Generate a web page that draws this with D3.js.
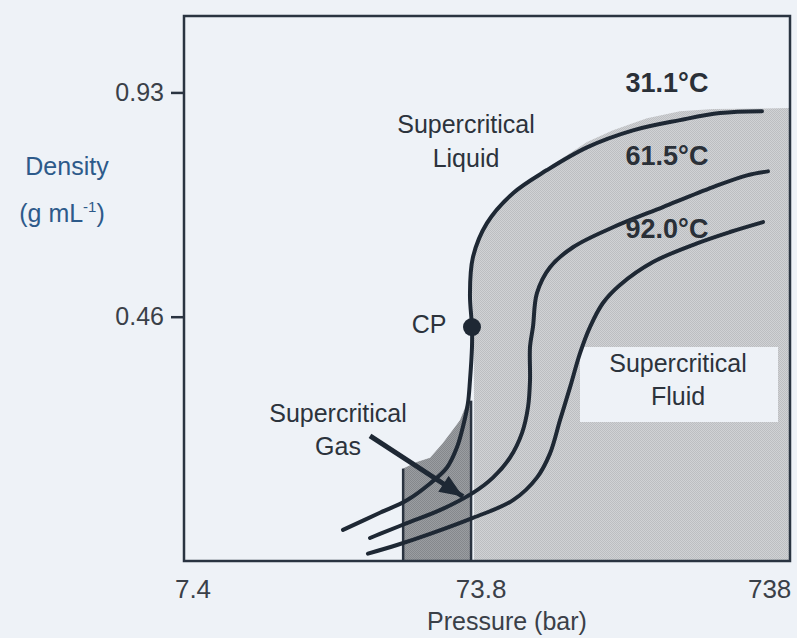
<!DOCTYPE html>
<html><head><meta charset="utf-8">
<script src="https://cdn.jsdelivr.net/npm/d3@7"></script>
<style>
html,body{margin:0;padding:0;background:#eef2f7;}
svg{display:block;font-family:Arial,"Liberation Sans",sans-serif;}
</style>
</head><body>
<svg id="c" width="797" height="638"></svg>
<script>
// ---- data (pressure in bar, density in g/mL) ----
const pressureTicks = [7.4, 73.8, 738];
const densityTicks = [0.46, 0.93];
const pressureDomain = [6.887, 868.3];
const densityDomain = [0.214, 1.184];

const tempLabels = ["31.1°C", "61.5°C", "92.0°C"];

const p31 = [24.5, 32.9, 40.8, 49.1, 56.2, 60.9, 63.8, 66.4, 67.5, 68.6, 68.6, 67.5, 69.1, 77.3, 95.2, 124.8, 171.8, 248.0, 360.8, 496.5, 694.3];
const d31 = [0.236, 0.249, 0.259, 0.273, 0.287, 0.306, 0.326, 0.351, 0.377, 0.419, 0.446, 0.494, 0.555, 0.618, 0.679, 0.730, 0.784, 0.827, 0.854, 0.873, 0.878];

const p61 = [30.4, 32.9, 40.8, 53.1, 69.1, 81.1, 92.9, 102.3, 107.3, 109.0, 109.0, 111.6, 115.2, 127.9, 153.6, 211.4, 315.0, 469.5, 616.0, 728.3];
const d61 = [0.230, 0.233, 0.241, 0.251, 0.265, 0.278, 0.296, 0.320, 0.347, 0.377, 0.419, 0.446, 0.496, 0.538, 0.573, 0.610, 0.650, 0.692, 0.718, 0.727];

const p92 = [29.9, 37.7, 49.1, 69.1, 95.2, 115.2, 127.9, 138.5, 150.0, 162.5, 175.9, 195.1, 223.5, 290.9, 413.3, 537.8, 700.0];
const d92 = [0.219, 0.225, 0.233, 0.245, 0.259, 0.278, 0.300, 0.333, 0.369, 0.411, 0.446, 0.481, 0.509, 0.547, 0.580, 0.601, 0.620];

// shaded regions
const pFluid = [69.7, 69.7, 68.6, 69.1, 77.3, 95.2, 124.8, 171.8, 211.4, 277.3, 360.8, 469.5, 868.3, 868.3];
const dFluid = [0.214, 0.442, 0.496, 0.555, 0.618, 0.679, 0.734, 0.797, 0.827, 0.859, 0.878, 0.884, 0.887, 0.214];

const pGas = [39.6, 39.6, 44.2, 49.1, 54.4, 58.9, 62.3, 65.9, 68.1, 68.1];
const dGas = [0.214, 0.286, 0.292, 0.296, 0.310, 0.323, 0.333, 0.351, 0.354, 0.214];

const gasEdgeP = [39.6, 68.1];
const gasEdgeTop = [0.286, 0.354];

const criticalPoint = [68.6, 0.446];
const arrowFrom = [30.4, 0.317];
const arrowTo = [63.8, 0.262];

// ---- layout ----
const L = 184, R = 790, T = 16, B = 561;
const svg = d3.select("#c");
const x = d3.scaleLog().domain(pressureDomain).range([L, R]);
const y = d3.scaleLog().domain(densityDomain).range([B, T]);

const ink = "#1e2834", txt = "#2c333c";

const defs = svg.append("defs");
function stipple(id, a, b) {
  const p = defs.append("pattern").attr("id", id).attr("patternUnits", "userSpaceOnUse")
    .attr("width", 2).attr("height", 2);
  p.append("rect").attr("width", 2).attr("height", 2).attr("fill", a);
  p.append("rect").attr("width", 1).attr("height", 1).attr("fill", b);
  p.append("rect").attr("x", 1).attr("y", 1).attr("width", 1).attr("height", 1).attr("fill", b);
}
stipple("light", "#d0d2d5", "#bcbec1");
stipple("dark", "#9a9da1", "#85888c");

defs.append("marker").attr("id", "ah").attr("markerUnits", "userSpaceOnUse")
  .attr("viewBox", "0 0 22 18").attr("refX", 22).attr("refY", 9)
  .attr("markerWidth", 24).attr("markerHeight", 19).attr("orient", "auto")
  .append("path").attr("d", "M0,0 L22,9 L0,18 Z").attr("fill", ink);

svg.append("rect").attr("width", 797).attr("height", 638).attr("fill", "#eef2f7");

const poly = d3.line().x(d => x(d[0])).y(d => y(d[1]));
const smooth = d3.line().x(d => x(d[0])).y(d => y(d[1])).curve(d3.curveCatmullRom.alpha(0.5));
const zip = (a, b) => a.map((v, i) => [v, b[i]]);

// regions
svg.append("path").attr("d", poly(zip(pFluid, dFluid)) + "Z").attr("fill", "url(#light)");
svg.append("path").attr("d", poly(zip(pGas, dGas)) + "Z").attr("fill", "url(#dark)");
svg.selectAll(".edge").data(gasEdgeP).enter().append("line")
  .attr("x1", d => x(d)).attr("x2", d => x(d))
  .attr("y1", (d, i) => y(gasEdgeTop[i])).attr("y2", B)
  .attr("stroke", "#2a3340").attr("stroke-width", 2.5);

// fluid label box
svg.append("rect").attr("x", 580).attr("y", 347).attr("width", 198).attr("height", 75).attr("fill", "#eef2f7");

// isotherms
[[p31, d31], [p61, d61], [p92, d92]].forEach(([p, d]) => {
  svg.append("path").attr("d", smooth(zip(p, d))).attr("fill", "none")
    .attr("stroke", ink).attr("stroke-width", 4).attr("stroke-linecap", "round").attr("stroke-linejoin", "round");
});

// critical point
svg.append("circle").attr("cx", x(criticalPoint[0])).attr("cy", y(criticalPoint[1])).attr("r", 9).attr("fill", ink);

// arrow
svg.append("line").attr("x1", x(arrowFrom[0])).attr("y1", y(arrowFrom[1]))
  .attr("x2", x(arrowTo[0])).attr("y2", y(arrowTo[1]))
  .attr("stroke", ink).attr("stroke-width", 5).attr("marker-end", "url(#ah)");

// frame
svg.append("rect").attr("x", L).attr("y", T).attr("width", R - L).attr("height", B - T)
  .attr("fill", "none").attr("stroke", "#2a3441").attr("stroke-width", 2.5);

// y ticks
const yAxis = svg.append("g");
densityTicks.forEach(v => {
  yAxis.append("line").attr("x1", L - 13).attr("x2", L).attr("y1", y(v)).attr("y2", y(v))
    .attr("stroke", "#2a3441").attr("stroke-width", 2.5);
  yAxis.append("text").attr("x", L - 20).attr("y", y(v) + 8).attr("text-anchor", "end")
    .attr("font-size", 25).attr("fill", "#3a4048").text(v.toFixed(2));
});

// x tick labels
pressureTicks.forEach(v => {
  svg.append("text").attr("x", x(v)).attr("y", 598).attr("text-anchor", "middle")
    .attr("font-size", 26).attr("fill", "#3a4048").text(String(v));
});

// axis titles
svg.append("text").attr("x", 507).attr("y", 630).attr("text-anchor", "middle")
  .attr("font-size", 25).attr("fill", "#3a4048").text("Pressure (bar)");
svg.append("text").attr("x", 67).attr("y", 175).attr("text-anchor", "middle")
  .attr("font-size", 25).attr("fill", "#2d5a8a").text("Density");
const u = svg.append("text").attr("x", 62).attr("y", 222).attr("text-anchor", "middle")
  .attr("font-size", 25).attr("fill", "#2d5a8a");
u.append("tspan").text("(g mL");
u.append("tspan").attr("font-size", 15).attr("dy", -10).text("-1");
u.append("tspan").attr("dy", 10).text(")");

// isotherm labels
const tempY = [92, 165, 238];
tempLabels.forEach((t, i) => {
  svg.append("text").attr("x", 667).attr("y", tempY[i]).attr("text-anchor", "middle")
    .attr("font-size", 27).attr("font-weight", "bold").attr("fill", "#2a3038").text(t);
});

// region labels
function label(lines, cx, ys) {
  lines.forEach((s, i) => svg.append("text").attr("x", cx).attr("y", ys[i]).attr("text-anchor", "middle")
    .attr("font-size", 25).attr("fill", txt).text(s));
}
label(["Supercritical", "Liquid"], 466, [133, 167]);
label(["Supercritical", "Gas"], 338, [422, 455]);
label(["Supercritical", "Fluid"], 678, [372, 405]);
label(["CP"], 429, [333]);
</script>
</body></html>
